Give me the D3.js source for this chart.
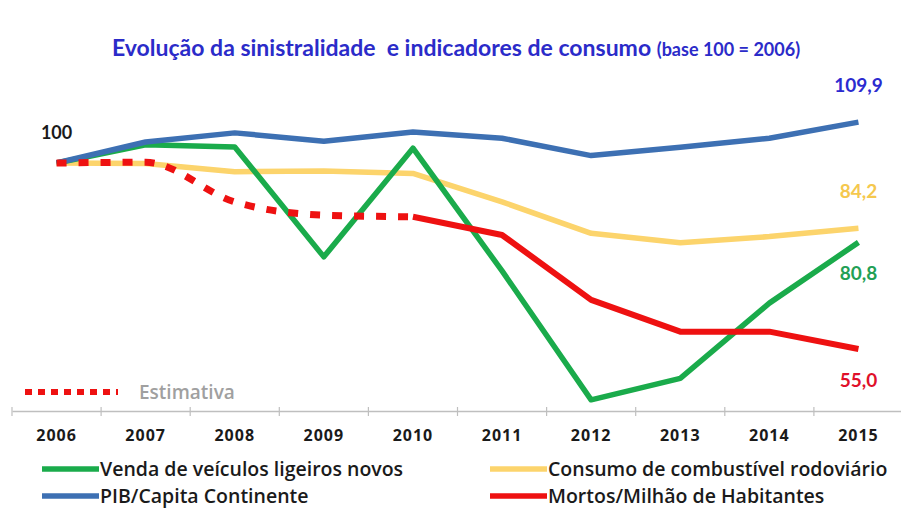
<!DOCTYPE html>
<html>
<head>
<meta charset="utf-8">
<title>Evolução da sinistralidade</title>
<script src="https://d3js.org/d3.v7.min.js"></script>
<style>
  body { margin: 0; background: #fff; }
  text { font-family: Lato, "Open Sans", sans-serif; white-space: pre; }
</style>
</head>
<body>
<div id="chart"></div>
<script>
// valores (base 100 = 2006)
var years = ["2006", "2007", "2008", "2009", "2010", "2011", "2012", "2013", "2014", "2015"];
var vendaVeiculos = [100, 104.4, 103.9, 77.3, 103.6, 73.9, 42.7, 47.9, 66.1, 80.8];
var consumoCombustivel = [100, 99.9, 97.9, 98.1, 97.5, 90.6, 83.0, 80.7, 82.2, 84.2];
var pibCapita = [100, 105.1, 107.3, 105.3, 107.5, 106.0, 101.8, 103.8, 106.0, 109.9];
var mortos = [100, 100.2, 90.6, 87.4, 87.0, 82.6, 66.9, 59.2, 59.2, 55.0];
var ultimoEstimado = "2010";

var width = 901, height = 508;

var svg = d3.select("#chart").append("svg")
    .attr("width", width)
    .attr("height", height);

var x = d3.scaleBand().domain(years).range([12, 903]);
var y = d3.scaleLinear().domain([40, 120]).range([411, 80.4]);
var cx = function(yr) { return x(yr) + x.bandwidth() / 2; };

// titulo
var title = svg.append("text")
    .attr("x", 112).attr("y", 56)
    .attr("fill", "#2b2bc9")
    .attr("font-weight", "bold");
title.append("tspan").attr("font-size", 23).text("Evolução da sinistralidade  e indicadores de consumo ");
title.append("tspan").attr("font-size", 18).text("(base 100 = 2006)");

// eixo x
var axis = svg.append("g")
    .attr("transform", "translate(0,411)")
    .call(d3.axisBottom(x).tickSize(0).tickPadding(19));
axis.select(".domain").attr("stroke", "#bfbfbf").attr("stroke-width", 1.5);
axis.selectAll(".tick text")
    .attr("font-size", 16)
    .attr("font-weight", "bold")
    .attr("letter-spacing", 1)
    .attr("fill", "#1a1a1a")
    .style("font-family", "'Open Sans', sans-serif");

// marcas entre categorias
svg.append("g").selectAll("line")
    .data(years.concat(["fim"]))
    .enter().append("line")
    .attr("x1", function(d, i) { return x.range()[0] + i * x.step(); })
    .attr("x2", function(d, i) { return x.range()[0] + i * x.step(); })
    .attr("y1", 407).attr("y2", 416)
    .attr("stroke", "#bfbfbf").attr("stroke-width", 1.2);

var line = d3.line()
    .x(function(d) { return cx(d.year); })
    .y(function(d) { return y(d.value); });

function pts(values) {
    return years.map(function(yr, i) { return { year: yr, value: values[i] }; });
}

var series = [
    { name: "Consumo de combustível rodoviário", values: consumoCombustivel, color: "#fcd46c" },
    { name: "Venda de veículos ligeiros novos", values: vendaVeiculos, color: "#1aab4b" },
    { name: "PIB/Capita Continente", values: pibCapita, color: "#3d70b3" },
    { name: "Mortos/Milhão de Habitantes", values: mortos, color: "#ee1111" }
];

var iEst = years.indexOf(ultimoEstimado);

series.forEach(function(s) {
    var data = pts(s.values);
    if (s.values === mortos) {
        svg.append("path")
            .datum(data.slice(iEst))
            .attr("d", line)
            .attr("fill", "none")
            .attr("stroke", s.color)
            .attr("stroke-width", 6)
            .attr("stroke-linejoin", "round");
        svg.append("path")
            .datum(data.slice(0, iEst + 1))
            .attr("d", line.curve(d3.curveMonotoneX))
            .attr("fill", "none")
            .attr("stroke", s.color)
            .attr("stroke-width", 7)
            .attr("stroke-dasharray", "10,12");
        line.curve(d3.curveLinear);
    } else {
        svg.append("path")
            .datum(data)
            .attr("d", line)
            .attr("fill", "none")
            .attr("stroke", s.color)
            .attr("stroke-width", 5.5)
            .attr("stroke-linejoin", "round");
    }
});

// rotulos
svg.append("text")
    .attr("x", cx("2006")).attr("y", 139)
    .attr("text-anchor", "middle")
    .attr("font-size", 18).attr("font-weight", "bold")
    .attr("fill", "#1a1a1a")
    .text("100");

var labelData = [
    { values: pibCapita, color: "#2b2bd0", dy: -30 },
    { values: consumoCombustivel, color: "#f5c84e", dy: -30 },
    { values: vendaVeiculos, color: "#22a055", dy: 38 },
    { values: mortos, color: "#e0102a", dy: 38 }
];
labelData.forEach(function(l) {
    var v = l.values[years.length - 1];
    svg.append("text")
        .attr("x", cx("2015")).attr("y", y(v) + l.dy)
        .attr("text-anchor", "middle")
        .attr("font-size", 19).attr("font-weight", "bold")
        .attr("fill", l.color)
        .text(d3.format(".1f")(v).replace(".", ","));
});

// legenda da estimativa
svg.append("line")
    .attr("x1", 25).attr("x2", 118)
    .attr("y1", 392).attr("y2", 392)
    .attr("stroke", "#ee1111").attr("stroke-width", 6)
    .attr("stroke-dasharray", "7,6");
svg.append("text")
    .attr("x", 139).attr("y", 399)
    .attr("font-size", 19)
    .attr("font-weight", 600)
    .attr("fill", "#a0a0a0")
    .style("font-family", "'Open Sans', sans-serif")
    .text("Estimativa");

// legenda
var legendPos = [
    { s: series[1], x: 42, y: 469 },
    { s: series[0], x: 490, y: 469 },
    { s: series[2], x: 42, y: 496 },
    { s: series[3], x: 490, y: 496 }
];
var lg = svg.append("g").selectAll("g")
    .data(legendPos)
    .enter().append("g")
    .attr("transform", function(d) { return "translate(" + d.x + "," + d.y + ")"; });
lg.append("line")
    .attr("x1", 0).attr("x2", 57)
    .attr("stroke", function(d) { return d.s.color; })
    .attr("stroke-width", 5.5);
lg.append("text")
    .attr("x", 58).attr("y", 7)
    .attr("font-size", 19.5)
    .attr("font-weight", 600)
    .attr("fill", "#1a1a1a")
    .style("font-family", "'Open Sans', sans-serif")
    .text(function(d) { return d.s.name; });
</script>
</body>
</html>
